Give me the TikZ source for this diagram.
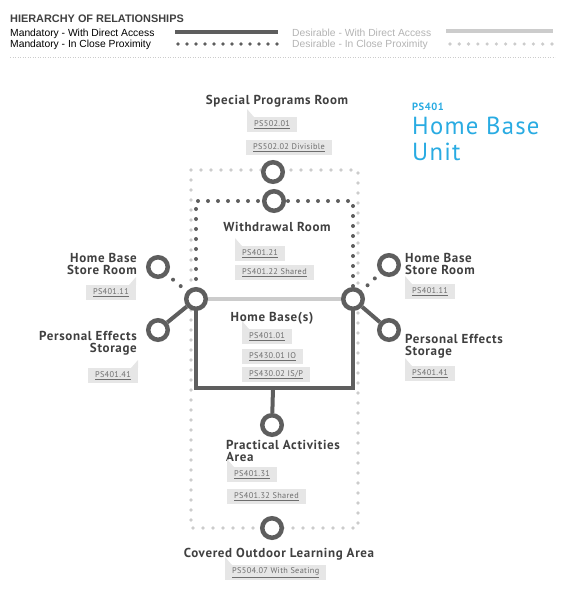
\documentclass[tikz,border=0pt]{standalone}
\usepackage{fontspec}
\setmainfont{PT Sans}
\newfontfamily\legendfont{Liberation Sans}
\newfontfamily\roomfont[LetterSpace=5]{PT Sans}
\newfontfamily\unitfont[LetterSpace=5]{PT Sans}
\newfontfamily\tagfont[LetterSpace=4]{PT Sans}
\usetikzlibrary{positioning,calc,backgrounds}
\definecolor{dg}{HTML}{5E5E5E}
\definecolor{lg}{HTML}{CCCCCC}
\definecolor{txt}{HTML}{404040}
\definecolor{tagbg}{HTML}{E6E6E6}
\definecolor{tagtxt}{HTML}{6E6E6E}
\definecolor{unitblue}{HTML}{29ABE2}
\definecolor{destxt}{HTML}{B3B3B3}
\tikzset{
    room/.style =     {circle,
                      fill=white,
                      draw=dg,
                      line width=4.5pt,
                      minimum size=19.5pt,
                      inner sep=0pt},
    roomname/.style = {text=txt,
                      font=\roomfont\bfseries\fontsize{13}{12}\selectfont,
                      inner sep=0pt,
                      align=left},
    tag/.style =      {rectangle,
                      fill=tagbg,
                      text=tagtxt,
                      font=\tagfont\fontsize{8.3}{9}\selectfont,
                      inner xsep=7pt,
                      inner ysep=0pt,
                      minimum height=15pt,
                      anchor=north west},
    legend/.style =   {inner sep=0pt,
                      anchor=base west,
                      font=\legendfont\fontsize{10.3}{12}\selectfont},
    mandline/.style = {draw=dg, line width=4pt},
    mandnear/.style = {draw=dg, line width=4pt, line cap=round,
                      dash pattern=on 0pt off 10pt},
    desline/.style =  {draw=lg, line width=4pt},
    desnear/.style =  {draw=lg, line width=3.6pt, line cap=round,
                      dash pattern=on 0pt off 10pt}
}
\newcommand\tagtail[1]{\fill[tagbg] (#1.north west) -- ++(0pt,8pt) -- ++(7pt,-8pt) -- cycle;}
\newcommand\tagtailr[1]{\fill[tagbg] (#1.north east) -- ++(0pt,8pt) -- ++(-7pt,-8pt) -- cycle;}

\begin{document}
\begin{tikzpicture}[x=1pt,y=-1pt]
    \useasboundingbox (0,0) rectangle (565,598);

    % legend
    \node[legend, text=txt, font=\legendfont\bfseries\fontsize{10.9}{12}\selectfont]
        (title) at (10,22) {HIERARCHY OF RELATIONSHIPS};
    \node[legend] (mda) at (10,36) {Mandatory - With Direct Access};
    \node[legend] (mcp) at (10,47.5) {Mandatory - In Close Proximity};
    \node[legend, text=destxt] (dda) at (292,36) {Desirable - With Direct Access};
    \node[legend, text=destxt] (dcp) at (292,47.5) {Desirable - In Close Proximity};
    \coordinate (mdaA) at (175,32);
    \coordinate (mdaB) at (278,32);
    \coordinate (mcpA) at (178,44);
    \coordinate (mcpB) at (277,44);
    \coordinate (ddaA) at (446,31);
    \coordinate (ddaB) at (553,31);
    \coordinate (dcpA) at (450,44);
    \coordinate (dcpB) at (552,44);
    \draw[mandline] (mdaA) -- (mdaB);
    \draw[mandnear, line width=3.8pt, dash pattern=on 0pt off 9pt] (mcpA) -- (mcpB);
    \draw[desline] (ddaA) -- (ddaB);
    \draw[desnear, dash pattern=on 0pt off 9.27pt] (dcpA) -- (dcpB);
    \coordinate (sepA) at (10,57);
    \coordinate (sepB) at (555,57);
    \draw[lg, line width=0.9pt, dash pattern=on 0.9pt off 1.6pt] (sepA) -- (sepB);

    % unit title
    \node[anchor=base west, inner sep=0pt, text=unitblue, font=\unitfont\bfseries\fontsize{10.5}{10}\selectfont]
        (code) at (412,110) {PS401};
    \node[anchor=base west, inner sep=0pt, text=unitblue, align=left,
          font=\unitfont\fontsize{24.7}{25.5}\selectfont]
        (unit) at (412,160) {Home Base\\Unit};

    % rooms
    \node[room] (spr) at (273,172) {};
    \node[room] (wdr) at (274,201) {};
    \node[room] (hbL) at (196,299) {};
    \node[room] (hbR) at (353,299) {};
    \node[room] (srL) at (158,267) {};
    \node[room] (peL) at (158,330) {};
    \node[room] (srR) at (389,265) {};
    \node[room] (peR) at (389,330) {};
    \node[room] (pa)  at (272,425) {};
    \node[room] (col) at (272,528) {};
    \coordinate (unitNW) at (191,170);
    \coordinate (unitSE) at (358,528);
    \coordinate (hbfoot) at (273,388);

    \begin{scope}[on background layer]
        \draw[desnear] (unitNW) rectangle (unitSE);
        \draw[mandnear] (hbL.center) |- (wdr.center) -| (hbR.center);
        \draw[desline] (hbL) -- (hbR);
        \draw[mandline] (hbL.center) |- (hbfoot) -| (hbR.center);
        \draw[mandline] (hbfoot) -- (pa);
        \draw[mandnear] (hbL.center) -- (srL.center);
        \draw[mandnear] (hbR.center) -- (srR.center);
        \draw[mandline] (hbL) -- (peL);
        \draw[mandline] (hbR) -- (peR);
    \end{scope}

    % names and tags
    \node[roomname, anchor=base] (sprtxt) at (277,104) {Special Programs Room};
    \node[tag] (spr1) at (247,117) {\underline{PS502.01}};
    \node[tag] (spr2) at (246,140) {\underline{PS502.02 Divisible}};
    \tagtail{spr1}

    \node[roomname, anchor=base] (wdrtxt) at (277,231) {Withdrawal Room};
    \node[tag] (wdr1) at (235,246) {\underline{PS401.21}};
    \node[tag] (wdr2) at (235,265) {\underline{PS401.22 Shared}};
    \tagtail{wdr1}

    \node[roomname, anchor=base] (hbtxt) at (272,321) {Home Base(s)};
    \node[tag] (hb1) at (242,329) {\underline{PS401.01}};
    \node[tag] (hb2) at (242,349) {\underline{PS430.01 IO}};
    \node[tag] (hb3) at (242,367) {\underline{PS430.02 IS/P}};
    \tagtail{hb1}

    \node[roomname, anchor=base east, align=right] (srLtxt) at (137,274) {Home Base\\Store Room};
    \node[tag, anchor=north east] (srL1) at (136,285) {\underline{PS401.11}};
    \tagtailr{srL1}

    \node[roomname, anchor=base east, align=right] (peLtxt) at (137,352) {Personal Effects\\Storage};
    \node[tag, anchor=north east] (peL1) at (138,368) {\underline{PS401.41}};
    \tagtailr{peL1}

    \node[roomname, anchor=base west] (srRtxt) at (405,274) {Home Base\\Store Room};
    \node[tag] (srR1) at (405,284) {\underline{PS401.11}};
    \tagtail{srR1}

    \node[roomname, anchor=base west] (peRtxt) at (405,355) {Personal Effects\\Storage};
    \node[tag] (peR1) at (405,366) {\underline{PS401.41}};
    \tagtail{peR1}

    \node[roomname, anchor=base west] (patxt) at (226,461) {Practical Activities\\Area};
    \node[tag] (pa1) at (227,467) {\underline{PS401.31}};
    \node[tag] (pa2) at (227,489) {\underline{PS401.32 Shared}};
    \tagtail{pa1}

    \node[roomname, anchor=base] (coltxt) at (279,557) {Covered Outdoor Learning Area};
    \node[tag] (col1) at (225,565) {\underline{PS504.07 With Seating}};
    \tagtail{col1}
\end{tikzpicture}
\end{document}
